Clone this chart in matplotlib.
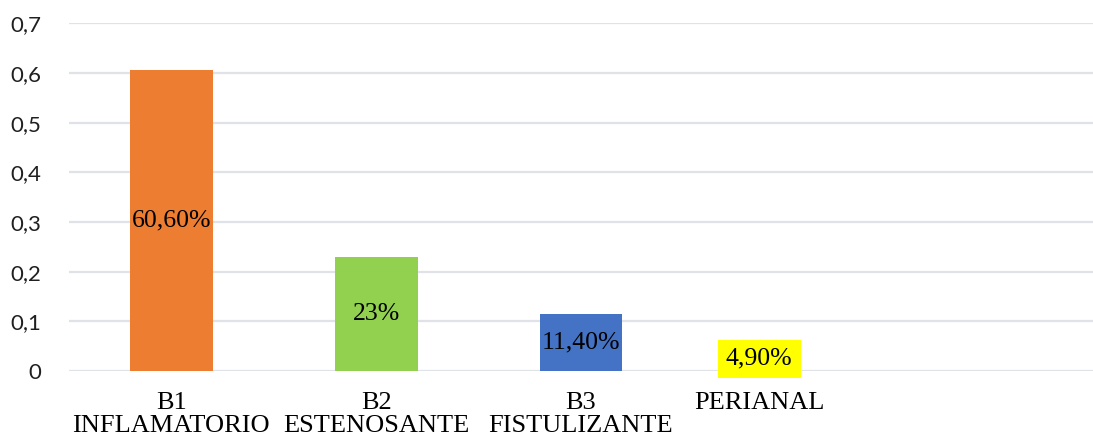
import matplotlib
matplotlib.use('Agg')
import matplotlib.pyplot as plt
from matplotlib.ticker import FixedLocator

##### data #####################
cats    = ['B1\nINFLAMATORIO', 'B2\nESTENOSANTE', 'B3\nFISTULIZANTE', 'PERIANAL']
vals    = [0.606, 0.23, 0.114, 0.049]
lbls    = ['60,60%', '23%', '11,40%', '4,90%']
colrs   = ['#ED7D31', '#92D050', '#4472C4', '#FFFF00']
yticks  = [0, 0.1, 0.2, 0.3, 0.4, 0.5, 0.6, 0.7]
ytlbls  = ['0', '0,1', '0,2', '0,3', '0,4', '0,5', '0,6', '0,7']

##### layout ###################
xpos    = [0, 1, 2, 2.87]
bar_w   = 0.405

fig = plt.figure(figsize=(10.93, 4.44), dpi=100)
ax  = fig.add_axes([0.0631, 0.1644, 0.9369, 0.7831])

ax.bar(xpos, vals, width=bar_w, color=colrs, zorder=2)

for x, v, t in zip(xpos, vals, lbls):
    bb = None
    if t == '4,90%':
        bb = dict(boxstyle='square,pad=0.32', fc='#FFFF00', ec='none')
    ax.text(x, v/2, t, ha='center', va='center', fontsize=18.5,
            family='Liberation Serif', color='black', bbox=bb, zorder=3)

ax.set_xlim(-0.5, 4.5)
ax.set_ylim(0, 0.7)
ax.yaxis.set_major_locator(FixedLocator(yticks))
ax.set_yticklabels(ytlbls, family='Lato', fontsize=16, color='#202020')
ax.set_xticks(xpos)
ax.set_xticklabels(cats, family='Liberation Serif', fontsize=19, linespacing=1.05)
ax.tick_params(axis='both', length=0)
ax.tick_params(axis='x', pad=15)
ax.tick_params(axis='y', pad=20)

ax.grid(axis='y', color='#DFE3E8', linewidth=1.6, zorder=0)
for s in ax.spines.values():
    s.set_visible(False)

fig.savefig('out.png', dpi=100)
